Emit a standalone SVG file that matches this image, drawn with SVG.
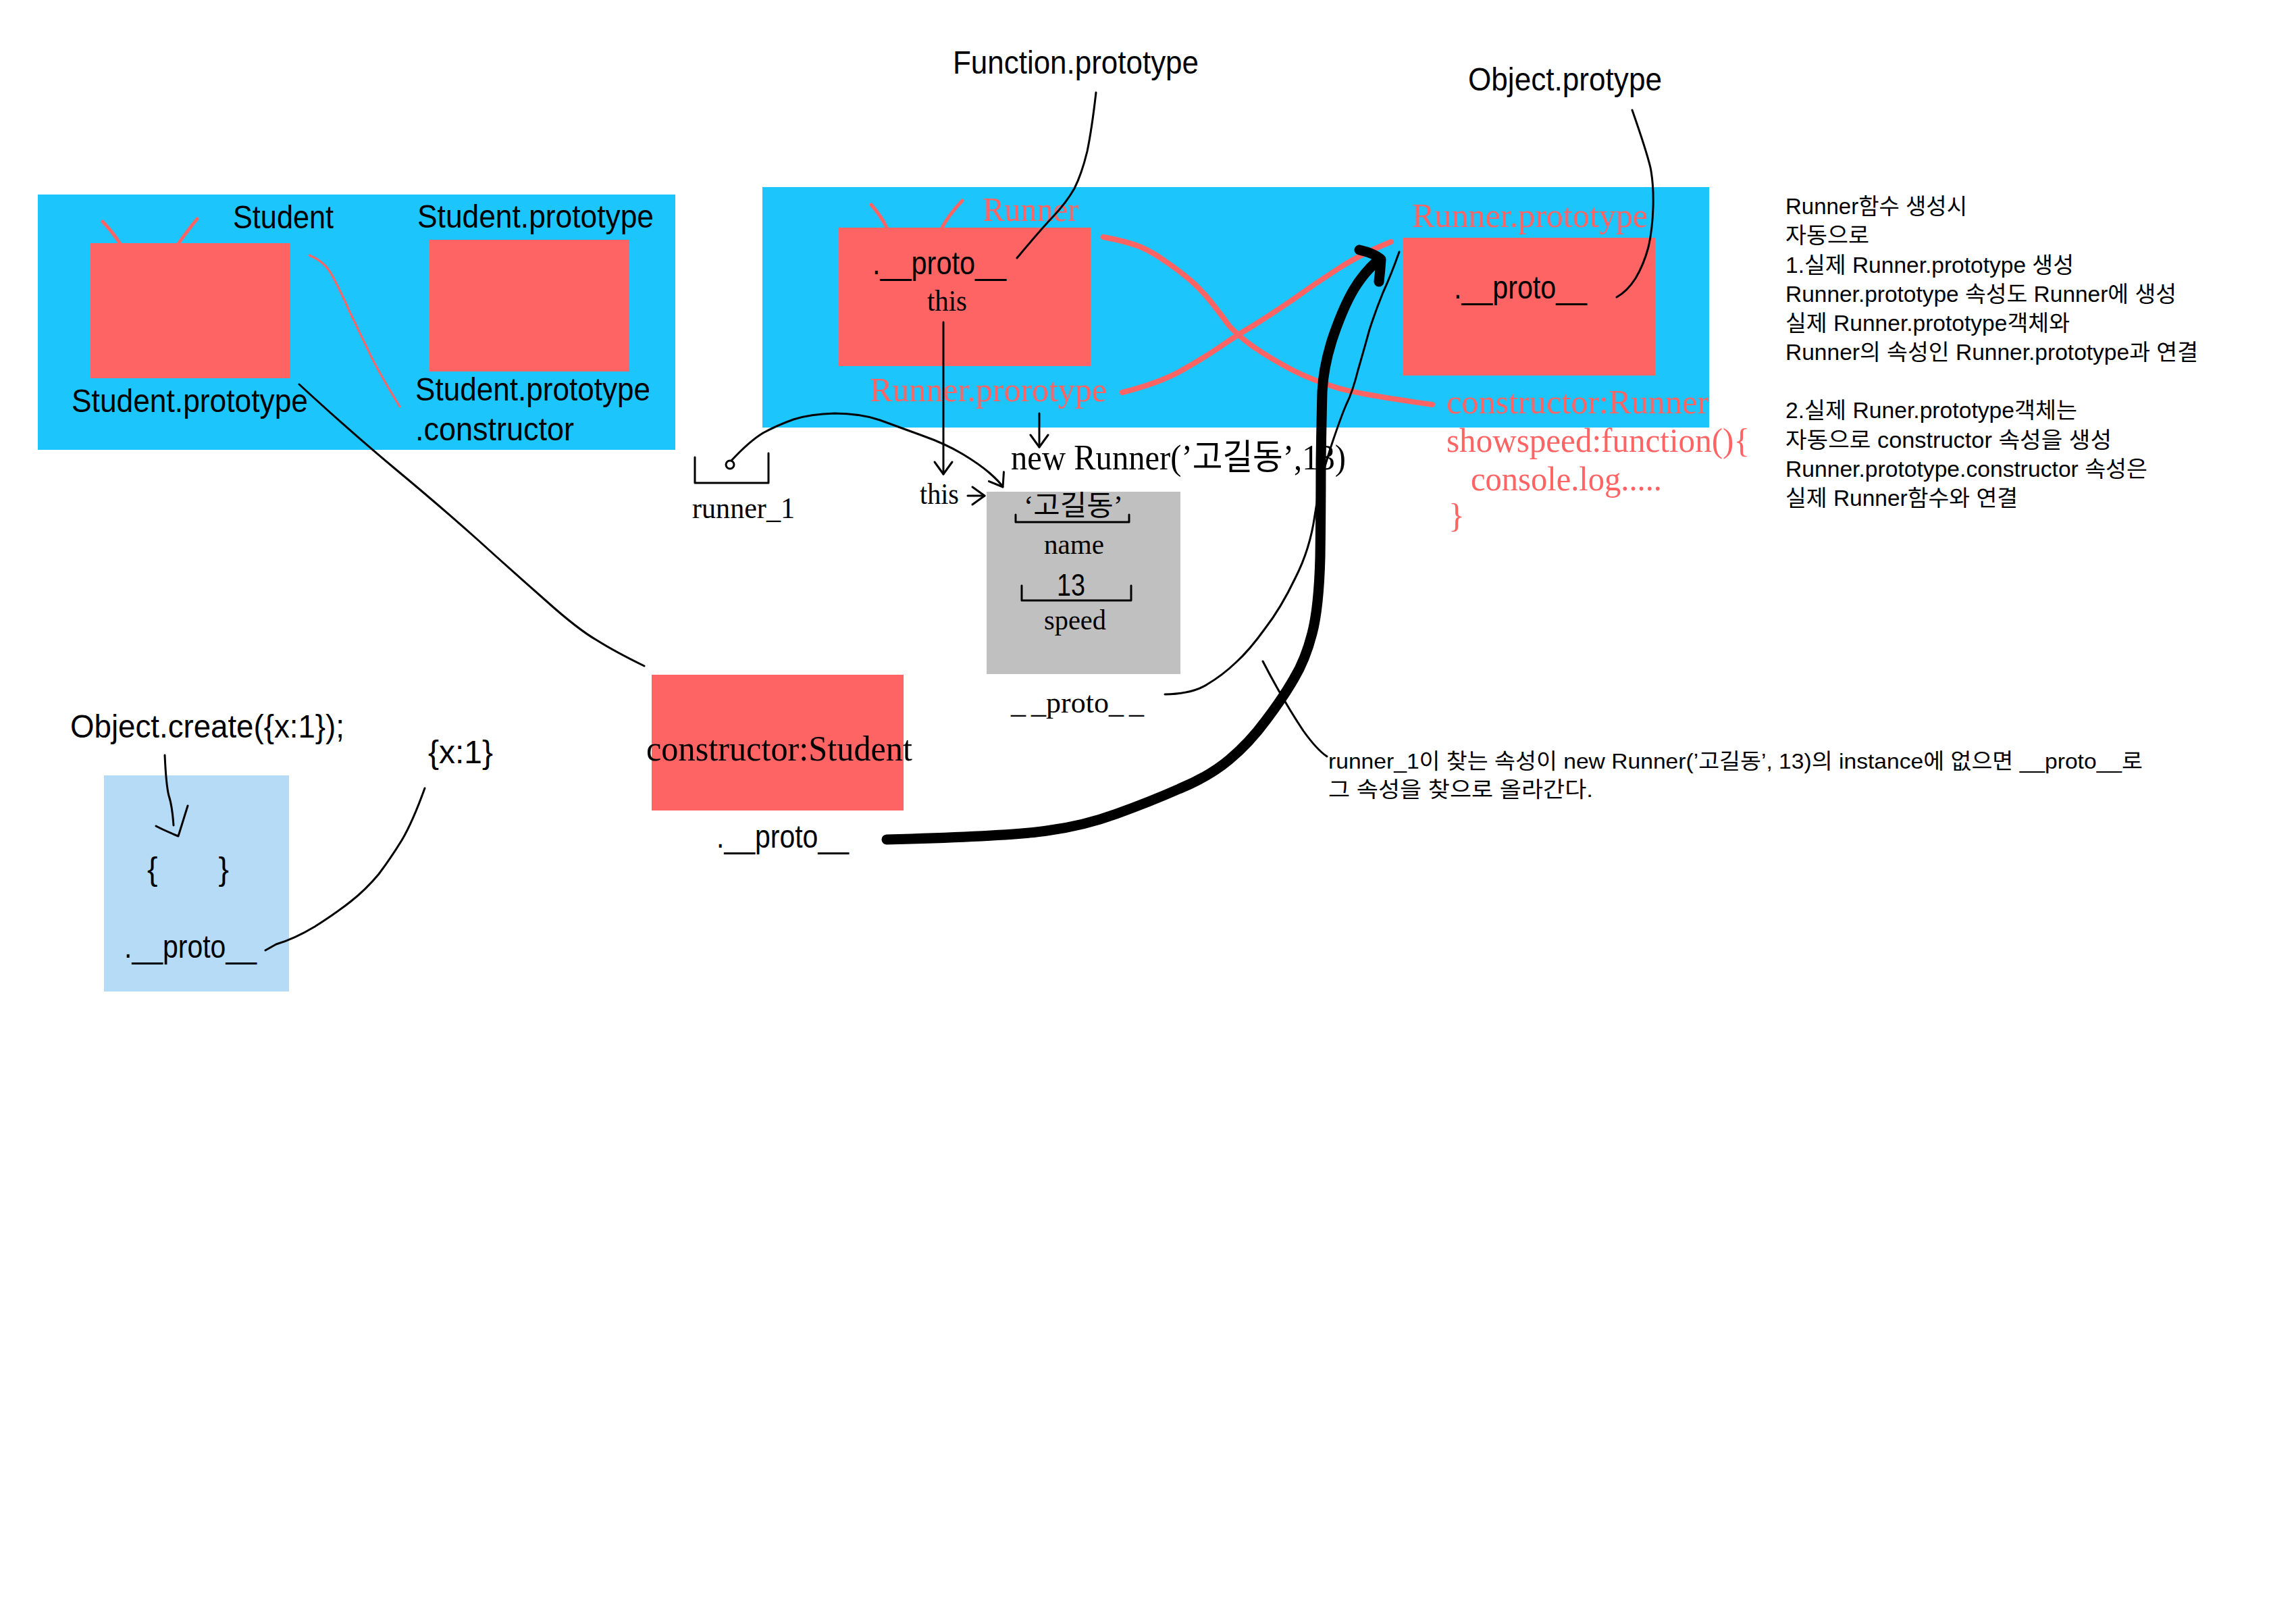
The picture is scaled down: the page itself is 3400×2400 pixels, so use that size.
<svg xmlns="http://www.w3.org/2000/svg" width="3400" height="2400" viewBox="0 0 3400 2400">
<style>
.s{font-family:"Liberation Sans","Noto Sans CJK KR",sans-serif;fill:#000}
.r{font-family:"Liberation Serif","Noto Sans CJK KR",serif;fill:#000}
.pk{fill:#FF6464}
.blue{fill:#1CC6FD}
.red{fill:#FF6464}
.ln{fill:none;stroke:#000;stroke-width:3;stroke-linecap:round;stroke-linejoin:round}
.pl{fill:none;stroke:#FF6464;stroke-width:8;stroke-linecap:round;stroke-linejoin:round}
.pt{fill:none;stroke:#FF6464;stroke-width:3;stroke-linecap:round}
.ant{fill:none;stroke:#FF6464;stroke-width:5;stroke-linecap:round}
</style>
<defs>
<marker id="v" markerWidth="26" markerHeight="32" refX="22" refY="16" orient="auto" markerUnits="userSpaceOnUse">
<path d="M4,3 L22,16 L4,29" fill="none" stroke="#000" stroke-width="3" stroke-linecap="round" stroke-linejoin="round"/>
</marker>
</defs>
<rect width="3400" height="2400" fill="#fff"/>

<g id="student-panel">
<rect class="blue" x="56" y="288" width="944" height="378"/>
</g>
<g id="student-function">
<rect class="red" x="134" y="360" width="296" height="200"/>
<path class="ant" d="M152,328 Q168,345 178,361 M292,324 Q275,345 264,361"/>
<text class="s" x="345" y="338" font-size="48" textLength="149" lengthAdjust="spacingAndGlyphs">Student</text>
<text class="s" x="106" y="610" font-size="48" textLength="350" lengthAdjust="spacingAndGlyphs">Student.prototype</text>
</g>
<g id="student-prototype">
<rect class="red" x="636" y="355" width="296" height="195"/>
<text class="s" x="618" y="337" font-size="48" textLength="350" lengthAdjust="spacingAndGlyphs">Student.prototype</text>
<text class="s" x="615" y="593" font-size="48" textLength="348" lengthAdjust="spacingAndGlyphs">Student.prototype</text>
<text class="s" x="615" y="652" font-size="48" textLength="235" lengthAdjust="spacingAndGlyphs">.constructor</text>
</g>

<g id="runner-panel">
<rect class="blue" x="1129" y="277" width="1402" height="356"/>
</g>
<g id="runner-function">
<rect class="red" x="1242" y="337" width="373" height="205"/>
<path class="ant" d="M1290,303 Q1305,320 1313,337 M1425,297 Q1405,318 1395,337"/>
<text class="r pk" x="1455" y="327" font-size="50" textLength="142" lengthAdjust="spacingAndGlyphs">Runner</text>
<text class="s" x="1292" y="406" font-size="48" textLength="198" lengthAdjust="spacingAndGlyphs">.__proto__</text>
<text class="r" x="1373" y="460" font-size="44" textLength="59" lengthAdjust="spacingAndGlyphs">this</text>
<text class="r pk" x="1288" y="594" font-size="50" textLength="351" lengthAdjust="spacingAndGlyphs">Runner.prorotype</text>
</g>
<g id="runner-prototype">
<rect class="red" x="2078" y="352" width="373" height="204"/>
<text class="r pk" x="2091" y="336" font-size="50" textLength="349" lengthAdjust="spacingAndGlyphs">Runner.prototype</text>
<text class="s" x="2153" y="442" font-size="48" textLength="197" lengthAdjust="spacingAndGlyphs">.__proto__</text>
<text class="r pk" x="2142" y="612" font-size="50" textLength="388" lengthAdjust="spacingAndGlyphs">constructor:Runner</text>
<text class="r pk" x="2142" y="669" font-size="50" textLength="449" lengthAdjust="spacingAndGlyphs">showspeed:function(){</text>
<text class="r pk" x="2178" y="726" font-size="50" textLength="283" lengthAdjust="spacingAndGlyphs">console.log.....</text>
<text class="r pk" x="2145" y="780" font-size="50">}</text>
</g>

<g id="function-prototype">
<text class="s" x="1411" y="109" font-size="48" textLength="364" lengthAdjust="spacingAndGlyphs">Function.prototype</text>
</g>
<g id="object-prototype">
<text class="s" x="2174" y="134" font-size="48" textLength="287" lengthAdjust="spacingAndGlyphs">Object.protype</text>
</g>

<g id="runner-1">
<path class="ln" d="M1029,677 L1029,715 L1138,715 L1138,671"/>
<circle cx="1081" cy="688" r="6" fill="none" stroke="#000" stroke-width="3"/>
<text class="r" x="1025" y="767" font-size="44" textLength="152" lengthAdjust="spacingAndGlyphs">runner_1</text>
</g>

<g id="new-runner">
<text class="r" x="1497" y="695" font-size="52" textLength="496" lengthAdjust="spacingAndGlyphs">new Runner(’고길동’,13)</text>
</g>

<g id="instance">
<rect x="1461" y="728" width="287" height="270" fill="#C0C0C0"/>
<text class="r" x="1516" y="763" font-size="42" textLength="147" lengthAdjust="spacingAndGlyphs">‘고길동’</text>
<path class="ln" d="M1504,762 L1504,773 L1672,773 L1672,762"/>
<text class="r" x="1546" y="820" font-size="42" textLength="89" lengthAdjust="spacingAndGlyphs">name</text>
<text class="s" x="1565" y="882" font-size="46" textLength="42" lengthAdjust="spacingAndGlyphs">13</text>
<path class="ln" d="M1513,867 L1513,889 L1675,889 L1675,867"/>
<text class="r" x="1546" y="932" font-size="42" textLength="92" lengthAdjust="spacingAndGlyphs">speed</text>
<text class="r" x="1338" y="746" font-size="44" textLength="58" lengthAdjust="spacingAndGlyphs" dx="24">this</text>
<text class="r" x="1497" y="1055" font-size="44">_<tspan dx="8">_proto_</tspan><tspan dx="8">_</tspan></text>
</g>

<g id="student-proto-object">
<rect class="red" x="965" y="999" width="373" height="201"/>
<text class="r" x="957" y="1126" font-size="52" textLength="394" lengthAdjust="spacingAndGlyphs">constructor:Student</text>
<text class="s" x="1061" y="1255" font-size="48" textLength="196" lengthAdjust="spacingAndGlyphs">.__proto__</text>
</g>

<g id="object-create">
<text class="s" x="104" y="1092" font-size="48" textLength="406" lengthAdjust="spacingAndGlyphs">Object.create({x:1});</text>
<rect x="154" y="1148" width="274" height="320" fill="#B5DBF7"/>
<text class="s" x="218" y="1303" font-size="48" textLength="121" lengthAdjust="spacingAndGlyphs" xml:space="preserve">{       }</text>
<text class="s" x="184" y="1418" font-size="48" textLength="196" lengthAdjust="spacingAndGlyphs">.__proto__</text>
</g>
<g id="x1-object">
<text class="s" x="634" y="1130" font-size="48" textLength="96" lengthAdjust="spacingAndGlyphs">{x:1}</text>
</g>

<g id="notes">
<text class="s" x="2644" y="317" font-size="33" textLength="269" lengthAdjust="spacingAndGlyphs">Runner함수 생성시</text>
<text class="s" x="2644" y="360" font-size="33" textLength="124" lengthAdjust="spacingAndGlyphs">자동으로</text>
<text class="s" x="2644" y="404" font-size="33" textLength="427" lengthAdjust="spacingAndGlyphs">1.실제 Runner.prototype 생성</text>
<text class="s" x="2644" y="447" font-size="33" textLength="579" lengthAdjust="spacingAndGlyphs">Runner.prototype 속성도 Runner에 생성</text>
<text class="s" x="2644" y="490" font-size="33" textLength="421" lengthAdjust="spacingAndGlyphs">실제 Runner.prototype객체와</text>
<text class="s" x="2644" y="533" font-size="33" textLength="611" lengthAdjust="spacingAndGlyphs">Runner의 속성인 Runner.prototype과 연결</text>
<text class="s" x="2644" y="619" font-size="33" textLength="432" lengthAdjust="spacingAndGlyphs">2.실제 Runer.prototype객체는</text>
<text class="s" x="2644" y="663" font-size="33" textLength="483" lengthAdjust="spacingAndGlyphs">자동으로 constructor 속성을 생성</text>
<text class="s" x="2644" y="706" font-size="33" textLength="536" lengthAdjust="spacingAndGlyphs">Runner.prototype.constructor 속성은</text>
<text class="s" x="2644" y="749" font-size="33" textLength="344" lengthAdjust="spacingAndGlyphs">실제 Runner함수와 연결</text>
</g>
<g id="lookup-note">
<text class="s" x="1967" y="1138" font-size="32" textLength="1206" lengthAdjust="spacingAndGlyphs">runner_1이 찾는 속성이 new Runner(’고길동’, 13)의 instance에 없으면 __proto__로</text>
<text class="s" x="1967" y="1180" font-size="32" textLength="392" lengthAdjust="spacingAndGlyphs">그 속성을 찾으로 올라간다.</text>
</g>

<g id="connectors">
<path class="pt" d="M458,378 Q481,387 492,408 Q504,430 518,462 Q533,493 545,518 Q556,543 592,602"/>
<path class="ln" d="M443,569 Q520,640 585,694 Q650,748 705,797 Q759,846 808,889 Q856,932 884,948 Q911,965 954,986"/>
<path class="pl" d="M1634,351 Q1671,358 1690,366 Q1708,374 1726,387 Q1744,399 1763,415 Q1781,431 1795,449 Q1809,467 1820,482 Q1832,496 1857,514 Q1882,531 1914,548 Q1946,564 1983,575 Q2020,585 2121,599"/>
<path class="pl" d="M1662,581 Q1717,567 1749,549 Q1781,531 1806,514 Q1832,496 1856,482 Q1880,467 1914,444 Q1947,420 1980,399 Q2013,377 2060,358"/>
<path class="ln" d="M1623,137 Q1617,190 1610,224 Q1602,257 1591,279 Q1579,300 1560,320 Q1541,340 1506,382"/>
<path class="ln" d="M2417,163 Q2438,223 2444,248 Q2449,273 2448,307 Q2447,340 2441,366 Q2434,392 2422,412 Q2410,431 2394,440"/>
<path class="ln" d="M1397,477 L1397,702" marker-end="url(#v)"/>
<path class="ln" d="M1539,612 L1539,662" marker-end="url(#v)"/>
<path class="ln" d="M1083,682 Q1110,653 1130,641 Q1150,630 1175,621 Q1200,613 1236,612 Q1273,612 1303,622 Q1333,633 1366,645 Q1400,657 1425,672 Q1450,687 1465,700 Q1480,713 1485,721" marker-end="url(#v)"/>
<path class="ln" d="M1433,734 L1458,734" marker-end="url(#v)"/>
<path class="ln" d="M1725,1028 Q1767,1027 1788,1013 Q1810,1000 1830,981 Q1850,963 1873,931 Q1897,900 1918,856 Q1940,813 1947,763 Q1954,713 1970,664 Q1986,616 1994,598 Q2003,580 2011,548 Q2020,517 2028,488 Q2037,460 2048,433 Q2060,407 2072,373"/>
<path class="ln" d="M1870,979 Q1900,1037 1930,1082 Q1950,1110 1965,1120"/>
<path fill="none" stroke="#000" stroke-width="15" stroke-linecap="round" stroke-linejoin="round" d="M1313,1243 Q1497,1238 1550,1230 Q1604,1223 1653,1205 Q1703,1187 1746,1168 Q1790,1150 1820,1125 Q1850,1100 1875,1066 Q1900,1033 1916,1005 Q1933,977 1943,938 Q1953,900 1955,825 Q1956,750 1956,685 Q1957,620 1958,580 Q1960,540 1975,496 Q1990,453 2005,428 Q2020,403 2043,383"/>
<path fill="none" stroke="#000" stroke-width="15" stroke-linecap="round" stroke-linejoin="round" d="M2013,370 Q2035,375 2045,384 Q2044,400 2042,417"/>
<path class="ln" d="M244,1118 Q246,1163 250,1178 Q255,1193 257,1222"/>
<path class="ln" d="M231,1223 Q240,1228 264,1238 L278,1193"/>
<path class="ln" d="M629,1167 Q611,1217 595,1244 Q579,1270 561,1294 Q542,1317 519,1335 Q496,1353 466,1372 Q436,1390 409,1398 L393,1407"/>
</g>
</svg>
